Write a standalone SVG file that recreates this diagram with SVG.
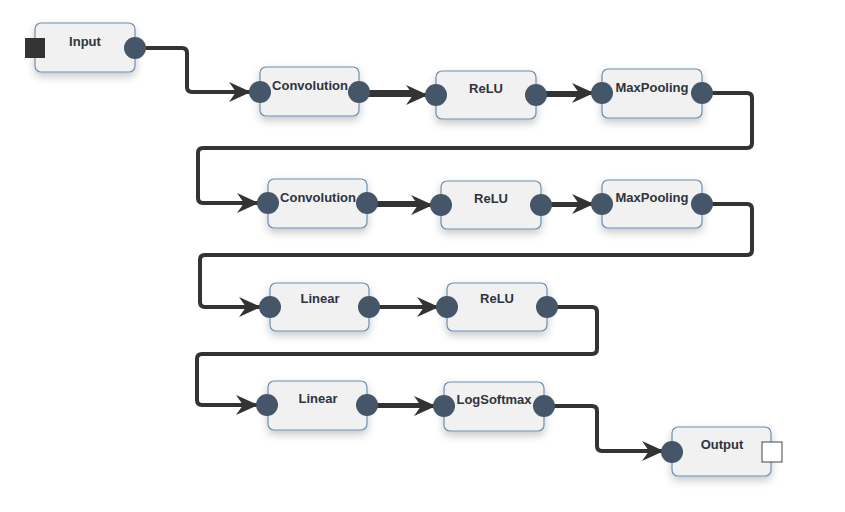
<svg xmlns="http://www.w3.org/2000/svg" width="845" height="512" viewBox="0 0 845 512">
<defs>
<filter id="sh" x="-30%" y="-30%" width="160%" height="170%">
<feDropShadow dx="0" dy="4" stdDeviation="4" flood-color="#000" flood-opacity="0.22"/>
</filter>
<marker id="arr" markerUnits="userSpaceOnUse" markerWidth="22" markerHeight="20" viewBox="0 0 22 20" refX="21" refY="10" orient="auto">
<path d="M0,0 L22,10 L0,20 L7,10 Z" fill="#333"/>
</marker>
<style>
.box{fill:#f1f1f1;stroke:#6a8fb0;stroke-width:1.2;filter:url(#sh)}
.lbl{font-family:"Liberation Sans",Arial,sans-serif;font-weight:bold;font-size:13px;fill:#2e3340;text-anchor:middle}
.port{fill:#455669}
.edge{fill:none;stroke:#333;stroke-width:4;marker-end:url(#arr)}
</style>
</defs>
<rect width="845" height="512" fill="#fff"/>
<g id="connectors">
<path class="edge" d="M146,48 H182 Q187,48 187,53 V87 Q187,92 192,92 H250"/>
<path class="edge" d="M359,92 H415 M359,95 H427"/>
<path class="edge" d="M536,95 H582 M536,93 H593"/>
<path class="edge" d="M702,93 H747 Q752,93 752,98 V143 Q752,148 747,148 H203 Q198,148 198,153 V198 Q198,203 203,203 H258"/>
<path class="edge" d="M367,203 H420 M367,205 H432"/>
<path class="edge" d="M541,205 H582 M541,204 H593"/>
<path class="edge" d="M702,204 H747 Q752,204 752,209 V250 Q752,255 747,255 H205 Q200,255 200,260 V302 Q200,307 205,307 H260"/>
<path class="edge" d="M369,307 H438"/>
<path class="edge" d="M547,307 H592 Q597,307 597,312 V349 Q597,354 592,354 H202 Q197,354 197,359 V400 Q197,405 202,405 H257"/>
<path class="edge" d="M367,405 H422 M367,406 H435"/>
<path class="edge" d="M544,406 H592 Q597,406 597,411 V446 Q597,451 602,451 H663"/>
</g>
<g id="n-input">
<rect class="box" x="35" y="23" width="100" height="49" rx="6"/>
<text class="lbl" x="85" y="45.5">Input</text>
<rect x="25" y="38" width="20" height="20" fill="#333"/>
<circle class="port" cx="135" cy="48" r="11"/>
</g>
<g id="n-conv1">
<rect class="box" x="260" y="67" width="99" height="49" rx="6"/>
<text class="lbl" x="310" y="89.5">Convolution</text>
<circle class="port" cx="260" cy="92" r="11"/>
<circle class="port" cx="359" cy="92" r="11"/>
</g>
<g id="n-relu1">
<rect class="box" x="436" y="71" width="100" height="48" rx="6"/>
<text class="lbl" x="486" y="93">ReLU</text>
<circle class="port" cx="436" cy="95" r="11"/>
<circle class="port" cx="536" cy="95" r="11"/>
</g>
<g id="n-maxpool1">
<rect class="box" x="602" y="69" width="100" height="49" rx="6"/>
<text class="lbl" x="652" y="91.5">MaxPooling</text>
<circle class="port" cx="602" cy="93" r="11"/>
<circle class="port" cx="702" cy="93" r="11"/>
</g>
<g id="n-conv2">
<rect class="box" x="268" y="179" width="99" height="49" rx="6"/>
<text class="lbl" x="318" y="201.5">Convolution</text>
<circle class="port" cx="268" cy="203" r="11"/>
<circle class="port" cx="367" cy="203" r="11"/>
</g>
<g id="n-relu2">
<rect class="box" x="441" y="181" width="100" height="48" rx="6"/>
<text class="lbl" x="491" y="203">ReLU</text>
<circle class="port" cx="441" cy="205" r="11"/>
<circle class="port" cx="541" cy="205" r="11"/>
</g>
<g id="n-maxpool2">
<rect class="box" x="602" y="180" width="100" height="48" rx="6"/>
<text class="lbl" x="652" y="202">MaxPooling</text>
<circle class="port" cx="602" cy="204" r="11"/>
<circle class="port" cx="702" cy="204" r="11"/>
</g>
<g id="n-linear1">
<rect class="box" x="270" y="283" width="99" height="48" rx="6"/>
<text class="lbl" x="320" y="303">Linear</text>
<circle class="port" cx="270" cy="307" r="11"/>
<circle class="port" cx="369" cy="307" r="11"/>
</g>
<g id="n-relu3">
<rect class="box" x="447" y="283" width="100" height="48" rx="6"/>
<text class="lbl" x="497" y="303">ReLU</text>
<circle class="port" cx="447" cy="307" r="11"/>
<circle class="port" cx="547" cy="307" r="11"/>
</g>
<g id="n-linear2">
<rect class="box" x="268" y="381" width="99" height="49" rx="6"/>
<text class="lbl" x="318" y="403">Linear</text>
<circle class="port" cx="267" cy="405" r="11"/>
<circle class="port" cx="367" cy="405" r="11"/>
</g>
<g id="n-logsoftmax">
<rect class="box" x="444" y="382" width="100" height="49" rx="6"/>
<text class="lbl" x="494" y="404">LogSoftmax</text>
<circle class="port" cx="444" cy="406" r="11"/>
<circle class="port" cx="544" cy="406" r="11"/>
</g>
<g id="n-output">
<rect class="box" x="672" y="427" width="99" height="49" rx="6"/>
<text class="lbl" x="722" y="449">Output</text>
<circle class="port" cx="672" cy="452" r="11"/>
<rect x="762" y="442" width="20" height="20" fill="#fff" stroke="#444" stroke-width="1"/>
</g>
</svg>
